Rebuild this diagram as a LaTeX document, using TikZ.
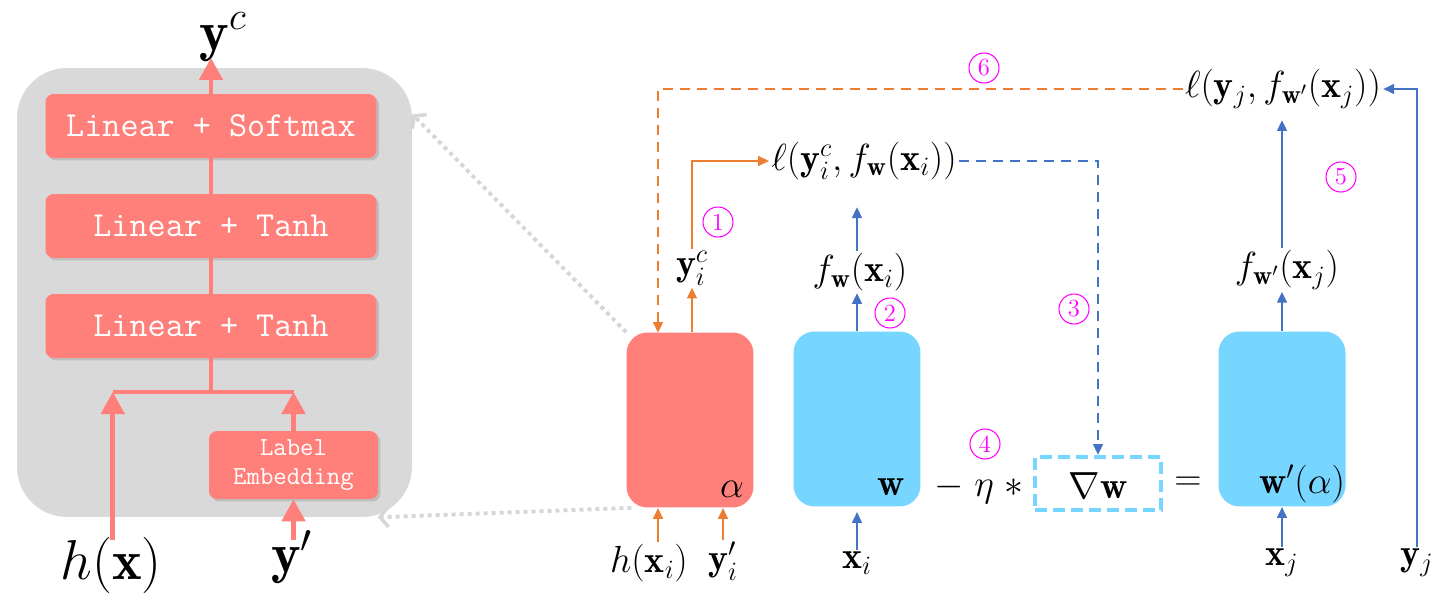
\RequirePackage{fix-cm}
\documentclass[tikz,border=0pt]{standalone}
\usepackage{amsmath,amssymb}
\usepackage{fontspec}
\usepackage{xcolor}
\usepackage{tikz}
\usetikzlibrary{arrows.meta,positioning,shadows}
\definecolor{metared}{RGB}{255,127,122}
\definecolor{netblue}{RGB}{118,214,255}
\definecolor{flowblue}{RGB}{68,114,196}
\definecolor{floworange}{RGB}{237,125,49}
\definecolor{panelgrey}{RGB}{217,217,217}
\definecolor{linkgrey}{RGB}{214,214,214}
\definecolor{stepmagenta}{RGB}{255,0,255}
\tikzset{
  panelbox/.style={fill=panelgrey,rounded corners=1cm,
    minimum width=7.9cm,minimum height=8.98cm,inner sep=0pt},
  layerbox/.style={fill=metared,rounded corners=0.16cm,text=white,
    minimum width=6.62cm,minimum height=1.28cm,inner sep=0pt,
    font=\ttfamily\fontsize{20}{20}\selectfont,
    drop shadow={shadow xshift=0.05cm,shadow yshift=-0.05cm,opacity=0.3}},
  embedbox/.style={layerbox,minimum width=3.38cm,minimum height=1.36cm,
    align=center,font=\ttfamily\fontsize{14.8}{16.5}\selectfont},
  netblock/.style={rounded corners=0.42cm,minimum width=2.54cm,
    minimum height=3.5cm,inner sep=0pt},
  metablock/.style={netblock,fill=metared},
  baseblock/.style={netblock,fill=netblue},
  gradbox/.style={draw=netblue,line width=0.08cm,
    dash pattern=on 0.24cm off 0.12cm,minimum width=2.52cm,
    minimum height=1.06cm,inner sep=0pt},
  mathlabel/.style={font=\fontsize{21.5}{23}\selectfont,inner sep=1pt},
  biglabel/.style={font=\fontsize{32}{34}\selectfont,inner sep=0pt},
  stepmark/.style={circle,draw=stepmagenta,text=stepmagenta,line width=0.6pt,
    minimum size=0.6cm,inner sep=0pt,font=\fontsize{14}{14}\selectfont},
  blueflow/.style={-{Triangle[length=0.22cm,width=0.19cm]},
    line width=1.6pt,draw=flowblue},
  orangeflow/.style={-{Triangle[length=0.22cm,width=0.19cm]},
    line width=1.6pt,draw=floworange},
  backflow/.style={dash pattern=on 0.2cm off 0.14cm},
  pinkline/.style={line width=2.7pt,draw=metared},
  pinkflow/.style={pinkline,-{Triangle[length=0.44cm,width=0.46cm]}},
  linkarrow/.style={-{Straight Barb[length=0.16cm,width=0.4cm,line width=2pt]},
    line width=2.2pt,draw=linkgrey,dash pattern=on 0.08cm off 0.08cm}
}

\begin{document}
\begin{tikzpicture}[x=0.02cm,y=-0.02cm]
  \useasboundingbox (0,0) rectangle (1440,605);
  % meta-net detail
  \node[panelbox] (panel) at (214.5,292.5) {};
  \node[layerbox] (soft) at (211,126) {Linear + Softmax};
  \node[layerbox] (tanhb) at (211,226) {Linear + Tanh};
  \node[layerbox] (tanha) at (211,326) {Linear + Tanh};
  \node[embedbox] (embed) at (293.5,465) {Label\\Embedding};
  \node[biglabel] (yc) at (223,37) {$\mathbf{y}^c$};
  \node[biglabel] (hx) at (111,565) {$h(\mathbf{x})$};
  \node[biglabel] (yp) at (292,557) {$\mathbf{y}'$};
  \coordinate (yctip) at (211,58);
  \coordinate (merge) at (211,392);
  \draw[pinkflow] (soft.north) -- (yctip);
  \draw[pinkline] (tanhb.north) -- (soft.south);
  \draw[pinkline] (tanha.north) -- (tanhb.south);
  \draw[pinkline] (tanha.south) -- (merge);
  \draw[pinkline,line width=2.2pt] ([xshift=1pt]hx.north |- merge) -- (embed.north |- merge);
  \draw[pinkflow] ([xshift=1pt,yshift=-2pt]hx.north) -- ([xshift=1pt]hx.north |- merge);
  \draw[pinkflow] (embed.north) -- (embed.north |- merge);
  \draw[pinkflow] ([yshift=-6pt]embed.south |- yp.north) -- (embed.south);

  % networks
  \node[metablock] (alpha) at (690,420) {};
  \node[baseblock] (wnet) at (857,419) {};
  \node[baseblock] (wnew) at (1282,419) {};
  \node[mathlabel] (alphatag) at (732,489) {$\alpha$};
  \node[mathlabel] (wtag) at (891,487) {$\mathbf{w}$};
  \node[mathlabel] (wnewtag) at (1302,484) {$\mathbf{w}'(\alpha)$};
  \node[mathlabel] (eta) at (979,489) {$-\mkern5mu\eta\mkern5mu\ast$};
  \node[gradbox] (grad) at (1098,483.5) {};
  \node[mathlabel] (gradtag) at (1098,486) {$\nabla\mathbf{w}$};
  \node[mathlabel] (eq) at (1188,484) {$=$};

  % inputs and outputs
  \node[mathlabel] (hxi) at (649,563) {$h(\mathbf{x}_i)$};
  \node[mathlabel] (ypi) at (723,561) {$\mathbf{y}'_i$};
  \node[mathlabel] (xi) at (857,563) {$\mathbf{x}_i$};
  \node[mathlabel] (xj) at (1282,563) {$\mathbf{x}_j$};
  \node[mathlabel] (yj) at (1417,563) {$\mathbf{y}_j$};
  \node[mathlabel] (yic) at (692,268) {$\mathbf{y}^c_i$};
  \node[mathlabel] (fwi) at (860,272) {$f_{\mathbf{w}}(\mathbf{x}_i)$};
  \node[mathlabel] (fwj) at (1287,270) {$f_{\mathbf{w}'}(\mathbf{x}_j)$};
  \node[mathlabel] (lossi) at (864,161) {$\ell(\mathbf{y}^c_i,f_{\mathbf{w}}(\mathbf{x}_i))$};
  \node[mathlabel] (lossj) at (1283,89) {$\ell(\mathbf{y}_j,f_{\mathbf{w}'}(\mathbf{x}_j))$};
  \coordinate (alphaback) at (658,333);
  \coordinate (lossin) at (857,207);
  \coordinate (lossjin) at (1282,120);

  \draw[orangeflow] (hxi.north -| alphaback) -- (alphaback |- alpha.south);
  \draw[orangeflow] (ypi.north) -- (ypi.north |- alpha.south);
  \draw[orangeflow] (alpha.north -| yic) -- (yic.south);
  \draw[orangeflow] (yic.north) |- (lossi.west);
  \draw[orangeflow,backflow] (lossj.west) -| (alphaback);
  \draw[blueflow,shorten >=0.1cm] (xi.north) -- (wnet.south);
  \draw[blueflow] (wnet.north) -- (wnet.north |- fwi.south);
  \draw[blueflow] (wnet.north |- fwi.north) -- (lossin);
  \draw[blueflow,backflow] (lossi.east) -| (grad.north);
  \draw[blueflow] (xj.north) -- (wnew.south);
  \draw[blueflow] (wnew.north) -- (wnew.north |- fwj.south);
  \draw[blueflow] (wnew.north |- fwj.north) -- (lossjin);
  \draw[blueflow] (yj.north) |- (lossj.east);

  % step numbers
  \node[stepmark] (s1) at (718,222) {1};
  \node[stepmark] (s2) at (890,313) {2};
  \node[stepmark] (s3) at (1074,309) {3};
  \node[stepmark] (s4) at (985,444) {4};
  \node[stepmark] (s5) at (1341,177) {5};
  \node[stepmark] (s6) at (984,68) {6};

  \draw[linkarrow] (alpha.north west) -- (panel.42.4);
  \draw[linkarrow] ([xshift=3pt]alpha.south west) -- (panel.-54.3);
\end{tikzpicture}
\end{document}
